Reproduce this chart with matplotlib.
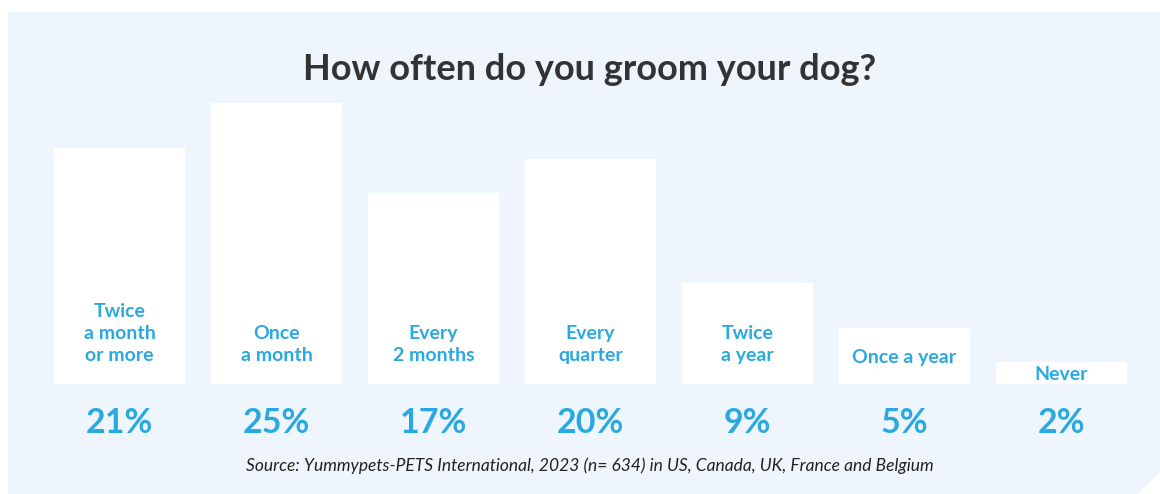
import matplotlib
matplotlib.use("Agg")
import matplotlib.pyplot as plt
from matplotlib.patches import Polygon

# ─── DATA ─────────────────────────────────────────────────────────────────────
TITLE = "How often do you groom your dog?"
SOURCE = ("Source: Yummypets-PETS International, 2023 (n= 634) "
          "in US, Canada, UK, France and Belgium")
categories = ["Twice\na month\nor more", "Once\na month", "Every\n2 months",
              "Every\nquarter", "Twice\na year", "Once a year", "Never"]
shares = [21, 25, 17, 20, 9, 5, 2]   # %

# ─── STYLE ────────────────────────────────────────────────────────────────────
W, H, DPI = 1160, 494, 100
PANEL_BG = "#eef5fc"
BLUE = "#2aa9e0"
DARK = "#333333"
FONT = ["Lato", "DejaVu Sans"]

# layout in pixels (from the top of the image)
BASE_PX = 384          # bottom of the bars
PX_PER_PCT = 11.25     # bar height per percent
FIRST_X_PX = 119.5     # centre of first bar
PITCH_PX = 157
BAR_W_PX = 131


def y_px(py):
    """pixel row (from top) -> data y (percent)"""
    return (BASE_PX - py) / PX_PER_PCT


fig = plt.figure(figsize=(W / DPI, H / DPI), dpi=DPI)
fig.patch.set_facecolor("white")

# background panel with chamfered bottom-right corner
pts = [(8, 12), (1160, 12), (1160, 472), (1138, 494), (8, 494)]
panel = Polygon([(x / W, 1 - y / H) for x, y in pts], closed=True,
                transform=fig.transFigure, facecolor=PANEL_BG,
                edgecolor="none", zorder=-10)
fig.patches.append(panel)

ax = fig.add_axes([0, 0, 1, 1])
ax.set_facecolor("none")
ax.axis("off")
ax.set_zorder(1)
ax.set_xlim(-FIRST_X_PX / PITCH_PX, (W - FIRST_X_PX) / PITCH_PX)
ax.set_ylim(y_px(H), y_px(0))

xs = list(range(len(shares)))
ax.bar(xs, shares, width=BAR_W_PX / PITCH_PX, bottom=0,
       color="white", edgecolor="none", zorder=2)

for x, lab, v in zip(xs, categories, shares):
    if v <= 5:
        ax.text(x, v / 2 - 0.15, lab, ha="center", va="center", color=BLUE,
                fontsize=14, fontweight="bold", family=FONT, zorder=3)
    else:
        ax.text(x, y_px(364), lab, ha="center", va="bottom", color=BLUE,
                fontsize=14, fontweight="bold", family=FONT,
                linespacing=1.36, zorder=3)
    ax.text(x, y_px(423), f"{v}%", ha="center", va="center", color=BLUE,
            fontsize=24.5, fontweight="bold", family=FONT, zorder=3)

fig.text(590 / W, 1 - 70 / H, TITLE, ha="center", va="center", color=DARK,
         fontsize=26, fontweight="bold", family=FONT, zorder=5)
fig.text(590 / W, 1 - 466 / H, SOURCE, ha="center", va="center",
         color="#222222", fontsize=12.5, style="italic", family=FONT,
         zorder=5)

fig.savefig("out.png", dpi=DPI, facecolor=fig.get_facecolor())
